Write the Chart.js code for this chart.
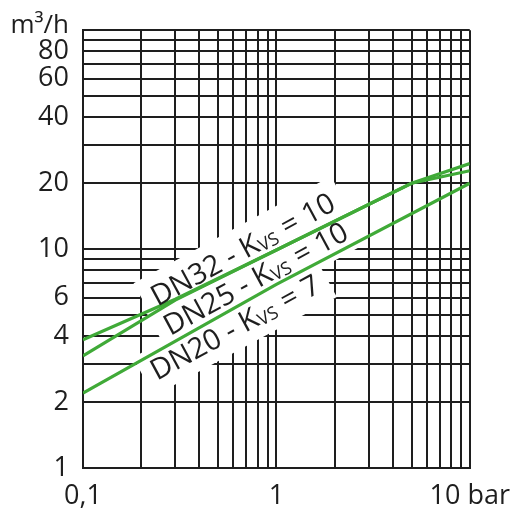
<!DOCTYPE html>
<html>
<head>
<meta charset="utf-8">
<script src="https://cdn.jsdelivr.net/npm/chart.js@4/dist/chart.umd.min.js"></script>
<style>
  html, body { margin: 0; padding: 0; background: #fff; }
  #wrap { width: 522px; height: 516px; }
</style>
</head>
<body>
<div id="wrap"><canvas id="chart"></canvas></div>
<script>
// Caudal (m³/h) frente a presión diferencial (bar), ejes log-log

const seriesNames = ['DN32', 'DN25', 'DN20'];
const kvsValues = [10, 10, 7];

const dn32Dp = [0.1, 0.3, 1, 5, 10];
const dn32Q  = [3.85, 5.9, 9.9, 20, 24.6];
const dn25Dp = [0.1, 0.3, 1, 5, 10];
const dn25Q  = [3.25, 5.85, 9.9, 20, 22.8];
const dn20Dp = [0.1, 1, 10];
const dn20Q  = [2.2, 6.9, 20];

// líneas de la rejilla y rótulos
const xGrid = [0.1, 0.2, 0.3, 0.4, 0.5, 0.6, 0.7, 0.8, 0.9, 1, 2, 3, 4, 5, 6, 7, 8, 9, 10];
const yGrid = [1, 2, 3, 4, 5, 6, 7, 8, 9, 10, 20, 30, 40, 50, 60, 70, 80, 90, 100];
const xLabelValues = [0.1, 1, 10];
const xLabelTexts  = ['0,1', '1', '10 bar'];
const yLabelValues = [1, 2, 4, 6, 10, 20, 40, 60, 80];
const yUnit = 'm³/h';

const INK = '#1e1e1e';
const GREEN = '#40aa38';
const FONT = 'Open Sans';

const dpBySeries = [dn32Dp, dn25Dp, dn20Dp];
const qBySeries = [dn32Q, dn25Q, dn20Q];

// rótulos de las curvas, anclados en unidades de datos
const curveLabels = {
  id: 'curveLabels',
  anchors: [
    { dp: 0.67, q: 10.0 },
    { dp: 0.78, q: 7.35 },
    { dp: 0.61, q: 4.4 },
  ],
  draw(chart, boxes) {
    const { ctx, scales: { x, y } } = chart;
    // ángulo de la curva DN20 en pantalla
    const n = dn20Dp.length - 1;
    const ang = Math.atan2(
      y.getPixelForValue(dn20Q[n]) - y.getPixelForValue(dn20Q[0]),
      x.getPixelForValue(dn20Dp[n]) - x.getPixelForValue(dn20Dp[0])
    );
    const big = `29px "${FONT}"`, small = `18px "${FONT}"`;

    this.anchors.forEach((a, i) => {
      const head = `${seriesNames[i]} - K`, sub = 'VS', tail = ` = ${kvsValues[i]}`;
      ctx.save();
      ctx.translate(x.getPixelForValue(a.dp), y.getPixelForValue(a.q));
      ctx.rotate(ang);
      ctx.font = big;
      const wHead = ctx.measureText(head).width, wTail = ctx.measureText(tail).width;
      ctx.font = small;
      const wSub = ctx.measureText(sub).width + 1;
      const w = wHead + wSub + wTail;
      if (boxes) {
        ctx.fillStyle = '#fff';
        ctx.fillRect(-w / 2 - 10, -22, w + 20, 44);
      } else {
        ctx.fillStyle = INK;
        ctx.textBaseline = 'alphabetic';
        ctx.textAlign = 'left';
        let cx = -w / 2;
        ctx.font = big;
        ctx.fillText(head, cx, 10);
        cx += wHead;
        ctx.font = small;
        ctx.fillText(sub, cx, 12);
        cx += wSub;
        ctx.font = big;
        ctx.fillText(tail, cx, 10);
      }
      ctx.restore();
    });
  },
  beforeDatasetsDraw(chart) { this.draw(chart, true); },
  afterDatasetsDraw(chart) { this.draw(chart, false); },
  afterDraw(chart) {
    const { ctx, chartArea } = chart;
    ctx.save();
    ctx.font = `26px "${FONT}"`;
    ctx.fillStyle = INK;
    ctx.textAlign = 'right';
    ctx.textBaseline = 'middle';
    ctx.fillText(yUnit, chartArea.left - 14, chartArea.top - 5);
    ctx.restore();
  },
};

const tickFont = { family: FONT, size: 27 };

new Chart(document.getElementById('chart'), {
  type: 'line',
  data: {
    datasets: seriesNames.map((name, i) => ({
      label: `${name} - Kvs = ${kvsValues[i]}`,
      data: dpBySeries[i].map((dp, j) => ({ x: dp, y: qBySeries[i][j] })),
      borderColor: GREEN,
      borderWidth: 3.2,
      pointRadius: 0,
      fill: false,
      tension: 0,
    })),
  },
  options: {
    responsive: true,
    maintainAspectRatio: false,
    animation: false,
    layout: { padding: { left: 0, right: 49, top: 26, bottom: 0 } },
    plugins: {
      legend: { display: false },
      tooltip: { enabled: false },
    },
    scales: {
      x: {
        type: 'logarithmic',
        min: 0.1,
        max: 10,
        afterBuildTicks: (s) => { s.ticks = xGrid.map((v) => ({ value: v })); },
        afterFit: (s) => { s.height = 48; },
        grid: { color: INK, lineWidth: 2, drawTicks: false },
        border: { color: INK, width: 2 },
        ticks: {
          autoSkip: false,
          maxRotation: 0,
          padding: 12,
          color: INK,
          font: tickFont,
          callback: (v) => {
            const i = xLabelValues.indexOf(v);
            return i >= 0 ? xLabelTexts[i] : '';
          },
        },
      },
      y: {
        type: 'logarithmic',
        min: 1,
        max: 100,
        afterBuildTicks: (s) => { s.ticks = yGrid.map((v) => ({ value: v })); },
        afterFit: (s) => { s.width = 83; },
        grid: { color: INK, lineWidth: 2, drawTicks: false },
        border: { color: INK, width: 2 },
        ticks: {
          autoSkip: false,
          padding: 14,
          color: INK,
          font: tickFont,
          callback: (v) => (yLabelValues.includes(v) ? String(v) : ''),
        },
      },
    },
  },
  plugins: [curveLabels],
});
</script>
</body>
</html>
